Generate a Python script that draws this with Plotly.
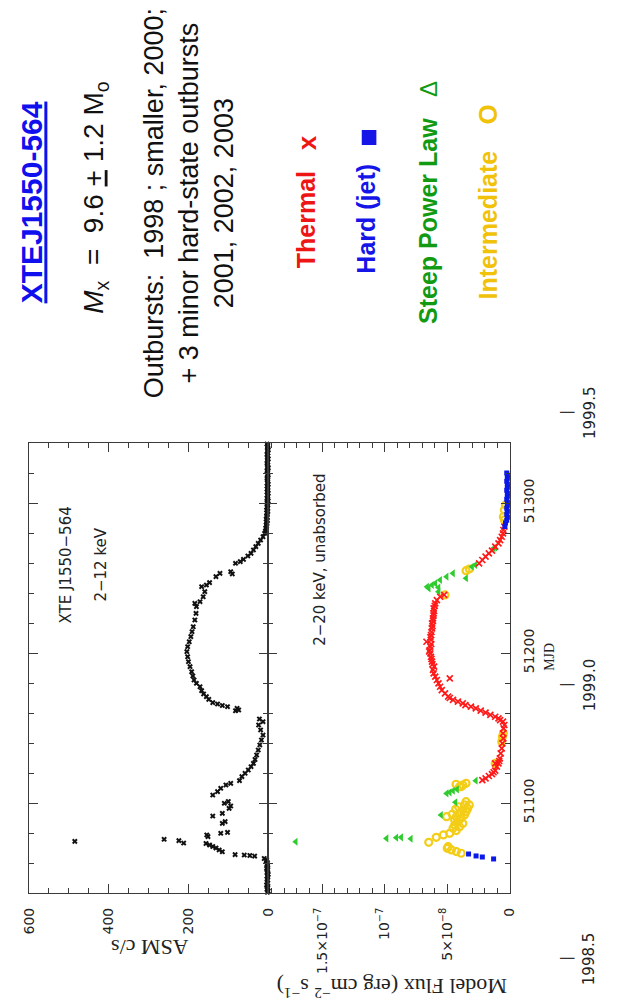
import plotly.graph_objects as go

W, H = 628, 1007

# ---------------- data ----------------
# RXTE/ASM 2-12 keV light curve of XTE J1550-564 (MJD, counts/s)
asm_mjd = [
    51040.5, 51041.3, 51042.4, 51043.5, 51044.2, 51045.4, 51046.5, 51047.3, 51048.6, 51049.4,
    51050.5, 51051.3, 51052.4, 51053.6, 51054.3, 51055.5, 51056.4, 51057.2, 51058.5, 51059.4,
    51060.3, 51061.5, 51062.2,
    51063.0, 51064.6, 51065.0, 51065.3, 51065.6, 51067.5, 51068.7, 51070.0, 51071.0, 51072.0,
    51073.0, 51073.3, 51074.9, 51075.8, 51074.4, 51077.6, 51078.7, 51079.8, 51080.4, 51086.4,
    51087.6, 51091.3, 51093.1, 51096.4, 51098.0, 51099.8, 51101.0, 51105.3, 51107.6, 51109.8,
    51112.0, 51113.1, 51114.9, 51117.6, 51119.8, 51122.0, 51124.2, 51126.4, 51129.0, 51132.0,
    51135.3, 51138.7, 51142.0, 51145.3, 51148.7, 51152.0, 51154.2, 51156.0,
    51161.5, 51162.0, 51163.1, 51164.2, 51165.0, 51166.0, 51166.9, 51169.1, 51170.9, 51172.7,
    51174.9, 51177.5, 51179.8, 51182.0, 51184.7, 51187.5, 51190.9, 51194.2, 51197.5, 51200.9,
    51204.2, 51207.5, 51210.9, 51214.2, 51217.5, 51222.0, 51226.4, 51230.9, 51233.1, 51234.2,
    51237.5, 51240.9, 51244.2, 51245.3, 51246.9, 51250.9, 51253.1, 51254.2, 51252.7, 51259.8,
    51260.9, 51262.4, 51264.7, 51266.4, 51268.7, 51270.9, 51273.1, 51275.3, 51277.5, 51279.8,
    51281.2, 51282.4, 51283.3, 51284.5, 51285.4, 51286.3, 51287.5, 51288.4, 51289.2, 51290.5,
    51291.4, 51292.3, 51293.5, 51294.4, 51295.3, 51296.5, 51297.2, 51298.4, 51299.5, 51300.3,
    51301.4, 51302.5, 51303.3, 51304.4, 51305.2, 51306.5, 51307.4, 51308.3, 51309.5, 51310.4,
    51311.2, 51312.5, 51313.4, 51314.3, 51315.5, 51316.4, 51317.2, 51318.5, 51319.3, 51320.4,
    51321.5, 51322.3, 51323.4, 51324.2, 51325.5, 51326.4, 51327.3, 51328.5, 51329.4, 51330.2,
    51331.5, 51332.4, 51333.3, 51334.5, 51335.4, 51336.2, 51337.5, 51338.4, 51339.3,
]
asm_rate = [
    2, 0, 3, 1, 2, 4, 1, -1, 2, 3,
    1, 2, 0, 3, 2, 1, 4, 2, 1, 3,
    2, 5, 4,
    10, 34, 46, 60, 83, 115, 123, 131, 139, 147,
    156, 212, 224, 261, 485, 151, 154, 119, 102, 115,
    108, 139, 115, 98, 94, 110, 100, 139, 127, 119,
    106, 94, 72, 66, 58, 50, 43, 37, 33, 29,
    25, 21, 17, 13, 19, 24, 13, 22,
    82, 74, 78, 102, 115, 127, 139, 149, 155, 162,
    167, 171, 180, 186, 189, 192, 196, 200, 202, 204,
    202, 198, 194, 191, 188, 184, 181, 180, 184, 171,
    163, 159, 167, 155, 147, 131, 121, 94, 90, 82,
    70, 62, 51, 43, 37, 31, 25, 19, 13, 9,
    7, 5, 6, 4, 5, 3, 4, 2, 5, 3,
    4, 2, 3, 1, 4, 2, 3, 1, 2, 3,
    0, 2, 3, 1, 2, 0, 3, 1, 2, 1,
    3, 0, 2, 1, 2, 3, 1, 0, 2, 1,
    3, 2, 0, 1, 2, 3, 1, 2, 0, 2,
    1, 3, 1, 2, 0, 1, 2, 1, 3,
]

# Model flux 2-20 keV, unabsorbed, in units of 1e-8 erg cm^-2 s^-1, by spectral state
thermal_mjd = [
    51115.3, 51116.4, 51118.0, 51119.3, 51120.5, 51121.6, 51124.2, 51126.4, 51128.0, 51129.8,
    51133.1, 51136.4, 51139.8, 51143.1, 51146.4, 51149.8, 51152.0, 51154.2, 51155.3, 51156.4,
    51157.5, 51158.7, 51160.2, 51161.6, 51163.1, 51164.2, 51165.3, 51166.4, 51167.6, 51168.7,
    51170.0, 51170.9, 51173.1, 51175.3, 51177.5, 51179.8, 51182.0, 51183.1, 51184.2, 51186.4,
    51188.7, 51190.9, 51192.5, 51194.2, 51196.0, 51197.5, 51199.8, 51201.0, 51202.0, 51204.2,
    51206.0, 51207.5, 51208.7, 51210.5, 51212.0, 51214.0, 51216.4, 51218.0, 51219.8, 51221.5,
    51223.1, 51225.0, 51226.4, 51228.0, 51229.8, 51231.5, 51233.1, 51235.3, 51237.5, 51238.7,
    51259.8, 51262.0, 51264.2, 51266.4, 51268.2, 51270.9, 51273.1, 51275.3, 51277.5, 51279.8,
    51282.0, 51284.2, 51126.4,
]
thermal_flux = [
    2.20, 1.94, 1.68, 1.43, 1.30, 1.17, 1.04, 0.91, 0.85, 0.80,
    0.73, 0.65, 0.60, 0.52, 0.55, 0.50, 0.44, 0.55, 0.78, 0.91,
    1.17, 1.56, 1.94, 2.33, 2.72, 3.11, 3.55, 3.76, 4.15, 4.54,
    4.80, 4.93, 5.18, 5.44, 5.57, 5.70, 5.83, 4.80, 5.96, 6.09,
    6.14, 6.05, 6.18, 6.22, 6.26, 6.30, 6.35, 6.45, 6.40, 6.35,
    6.28, 6.66, 6.30, 6.35, 6.30, 6.26, 6.22, 6.18, 6.22, 6.14,
    6.14, 6.10, 6.09, 6.05, 6.09, 6.00, 5.96, 5.83, 5.57, 5.25,
    2.46, 2.20, 1.94, 1.68, 1.43, 1.17, 0.91, 0.78, 0.65, 0.55,
    0.52, 0.44, 1.17,
]

hard_mjd = [
    51062.7, 51064.0, 51064.7, 51066.0,
    51284.3, 51286.7, 51288.5, 51290.5, 51292.5, 51294.5, 51296.5, 51298.5, 51300.5, 51302.5,
    51304.5, 51306.5, 51308.5, 51310.5, 51312.5, 51314.5, 51316.5, 51318.5, 51320.0,
]
hard_flux = [
    1.30, 2.20, 2.70, 3.30,
    0.40, 0.35, 0.25, 0.20, 0.25, 0.20, 0.25, 0.20, 0.20, 0.25,
    0.20, 0.20, 0.25, 0.20, 0.20, 0.25, 0.20, 0.20, 0.25,
]

steep_mjd = [
    51074.2, 51076.4, 51076.9, 51077.1, 51076.2,
    51092.0, 51100.5, 51106.4, 51107.1, 51108.2, 51109.1, 51114.9,
    51240.9, 51243.1, 51244.2, 51245.3, 51246.4, 51243.6, 51248.7, 51250.9,
    51253.1, 51249.8, 51257.5, 51258.7, 51269.8, 51270.4,
]
steep_flux = [
    17.1, 9.85, 9.07, 8.68, 7.91,
    5.50, 4.35, 5.05, 4.80, 4.54, 4.22, 2.72,
    5.70, 6.48, 6.61, 6.22, 5.96, 5.70, 5.57, 5.05,
    4.54, 3.50, 3.03, 2.77, 1.30, 1.17,
]

inter_mjd = [
    51066.5, 51067.6, 51068.7, 51070.9, 51069.8,
    51073.8, 51077.1, 51078.7, 51079.8, 51081.6, 51084.2, 51086.4,
    51083.1, 51085.3, 51087.5, 51088.7, 51089.8, 51090.9, 51090.9, 51092.0,
    51093.1, 51094.2, 51095.3, 51095.8, 51096.4, 51098.7, 51098.7, 51100.9,
    51097.5, 51092.5,
    51110.9, 51112.0, 51113.1, 51110.9, 51112.5,
    51126.4, 51140.9, 51144.2, 51146.4,
    51238.7, 51254.9, 51256.0,
    51288.7, 51290.9, 51295.3, 51298.7,
]
inter_flux = [
    3.89, 4.28, 4.67, 4.93, 5.00,
    6.48, 5.88, 5.31, 4.80, 4.28, 4.02, 3.76,
    4.54, 4.41, 4.15, 4.41, 3.89, 4.28, 5.05, 3.63,
    4.02, 3.50, 3.76, 4.33, 3.37, 3.24, 3.63, 3.50,
    4.10, 4.60,
    4.02, 3.76, 3.50, 3.89, 4.30,
    1.17, 0.65, 0.60, 0.52,
    5.18, 3.50, 3.24,
    0.44, 0.52, 0.44, 0.35,
]

for a, b in [(asm_mjd, asm_rate), (thermal_mjd, thermal_flux), (hard_mjd, hard_flux),
             (steep_mjd, steep_flux), (inter_mjd, inter_flux)]:
    assert len(a) == len(b), (len(a), len(b))

# axis ticks
asm_ticks = [0, 200, 400, 600]
flux_ticks = [0, 5, 10, 15]
flux_ticktext = ["0", "5×10<sup>−8</sup>", "10<sup>−7</sup>", "1.5×10<sup>−7</sup>"]
year_labels = ["1998.5", "1999.0", "1999.5"]
year_mjd = [50996.4, 51179.0, 51360.5]

# ---------------- layout geometry (pixels of the page) ----------------
MJD_RANGE = [51040, 51340]
LEFT, MID, RIGHT = 21.5, 267.0, 515.0
TOP, BOTTOM = 443.0, 893.0

def px(x):
    return x / W

def py(y):
    return 1 - y / H

x1_dom = [px(LEFT), px(MID)]
x2_dom = [px(MID), px(RIGHT)]
y_dom = [py(BOTTOM), py(TOP)]

SANS = "Liberation Sans, Arial, sans-serif"
PLOT_SANS = "DejaVu Sans, sans-serif"
SERIF = "Liberation Serif, Times New Roman, serif"
AX = "#3a3a3a"

fig = go.Figure()

fig.add_trace(go.Scatter(
    x=asm_rate, y=asm_mjd, xaxis="x", yaxis="y", mode="markers", cliponaxis=False,
    marker=dict(symbol="x", size=5, color="#111111", line=dict(width=0)),
    showlegend=False, hoverinfo="skip"))

fig.add_trace(go.Scatter(
    x=inter_flux, y=inter_mjd, xaxis="x2", yaxis="y2", mode="markers", cliponaxis=False,
    marker=dict(symbol="circle-open", size=7, color="#f3cd17", line=dict(width=2.2, color="#f3cd17")),
    showlegend=False, hoverinfo="skip"))
fig.add_trace(go.Scatter(
    x=steep_flux, y=steep_mjd, xaxis="x2", yaxis="y2", mode="markers", cliponaxis=False,
    marker=dict(symbol="triangle-left", size=7, color="#2fcc2f", line=dict(width=0)),
    showlegend=False, hoverinfo="skip"))
fig.add_trace(go.Scatter(
    x=thermal_flux, y=thermal_mjd, xaxis="x2", yaxis="y2", mode="markers", cliponaxis=False,
    marker=dict(symbol="x-thin", size=6, color="#ff1a1a", line=dict(width=1.7, color="#ff1a1a")),
    showlegend=False, hoverinfo="skip"))
fig.add_trace(go.Scatter(
    x=hard_flux, y=hard_mjd, xaxis="x2", yaxis="y2", mode="markers", cliponaxis=False,
    marker=dict(symbol="square", size=5, color="#0a18e8", line=dict(width=0)),
    showlegend=False, hoverinfo="skip"))

tickfont = dict(family=PLOT_SANS, size=14, color="#222222")
minor_style = dict(ticks="inside", ticklen=5, tickwidth=1.3, tickcolor=AX, showgrid=False)
common_x = dict(showline=True, linecolor=AX, linewidth=1.3, mirror="allticks",
                ticks="inside", ticklen=9, tickcolor=AX, tickwidth=1.3,
                showgrid=False, zeroline=False, tickangle=-90, tickfont=tickfont,
                ticklabelstandoff=8, anchor="y")
common_y = dict(showline=True, linecolor=AX, linewidth=1.3, mirror="allticks",
                ticks="inside", ticklen=9, tickcolor=AX, tickwidth=1.3,
                showgrid=False, zeroline=False, range=MJD_RANGE, domain=y_dom,
                tickmode="linear", tick0=51000, dtick=100, tickformat="d",
                minor=dict(tickmode="linear", tick0=51000, dtick=20, **minor_style))

fig.update_layout(
    width=W, height=H,
    margin=dict(l=0, r=0, t=0, b=0),
    paper_bgcolor="white", plot_bgcolor="white",
    xaxis=dict(**common_x, domain=x1_dom, range=[600, 0],
               tickmode="array", tickvals=asm_ticks,
               minor=dict(tickmode="linear", tick0=0, dtick=50, **minor_style)),
    xaxis2=dict(**{**common_x, "anchor": "y2"}, domain=x2_dom, range=[19.3, 0],
                tickmode="array", tickvals=flux_ticks, ticktext=flux_ticktext,
                minor=dict(tickmode="linear", tick0=0, dtick=1, **minor_style)),
    yaxis=dict(**common_y, anchor="x", showticklabels=False),
    yaxis2=dict(**common_y, anchor="x2", side="right", showticklabels=True,
                tickangle=-90, tickfont=tickfont, ticklabelstandoff=6),
)


def label(text, x, y, size, color="#111111", family=SANS, angle=-90, **kw):
    return dict(text=text, x=px(x), y=py(y), xref="paper", yref="paper",
                showarrow=False, textangle=angle, xanchor="center", yanchor="middle",
                font=dict(size=size, color=color, family=family), **kw)


def mjd_to_page(m):
    frac = (m - MJD_RANGE[0]) / (MJD_RANGE[1] - MJD_RANGE[0])
    return BOTTOM - frac * (BOTTOM - TOP)


annotations = [
    # header text
    label("<b><u>XTEJ1550-564</u></b>", 25, 202, 30, color="#1010ee"),
    label("<i>M</i><sub>x</sub>  =  9.6 <u>+</u> 1.2 M<sub>o</sub>", 89, 198, 28),
    label("Outbursts:  1998 ; smaller, 2000;<br>+ 3 minor hard-state outbursts<br>2001, 2002, 2003",
          186, 203, 27, align="center"),
    # state key
    label("<b>Thermal</b>", 306, 220, 25, color="#ee1515"),
    label("<b>x</b>", 307, 143, 26, color="#ee1515"),
    label("<b>Hard (jet)</b>", 367, 219, 25, color="#1515e8"),
    label("<b>Steep Power Law</b>", 431, 221, 25, color="#129a12"),
    label("Δ", 431, 89, 24, color="#129a12"),
    label("<b>Intermediate</b>", 493, 225, 25, color="#f0c20a"),
    label("<b>O</b>", 493, 114, 26, color="#f0c20a"),
    # panel labels
    label("XTE J1550−564", 60, 565, 15, color="#222222", family=PLOT_SANS),
    label("2−12 keV", 95, 565, 15, color="#222222", family=PLOT_SANS),
    label("2−20 keV, unabsorbed", 320, 560, 15, color="#222222", family=PLOT_SANS),
    # axis titles
    label("ASM c/s", 145, 948, 22, color="#222222", family=SERIF, angle=180),
    label("Model Flux (erg cm<sup>−2</sup> s<sup>−1</sup>)", 394, 988, 22,
          color="#222222", family=SERIF, angle=180),
    label("MJD", 555, 657, 14, color="#222222", family=SERIF),
]
for yl, ym in zip(year_labels, year_mjd):
    yy = mjd_to_page(ym)
    annotations.append(label("|", 573, yy, 14, color="#333333", family=PLOT_SANS))
    annotations.append(label(yl, 597, yy, 15, color="#222222", family=PLOT_SANS))

fig.update_layout(
    annotations=annotations,
    shapes=[dict(type="rect", xref="paper", yref="paper",
                 x0=px(363), x1=px(378), y0=py(145), y1=py(130),
                 fillcolor="#1515e8", line=dict(width=0))],
)

fig.write_html("out.html")
